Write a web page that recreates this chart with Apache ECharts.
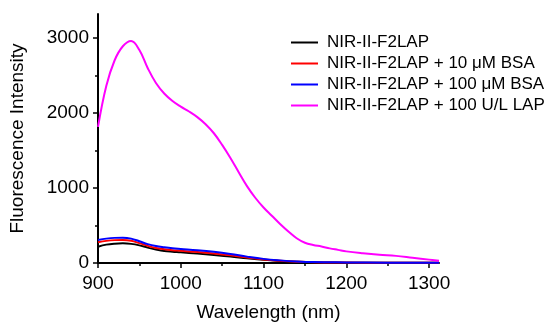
<!DOCTYPE html>
<html><head><meta charset="utf-8">
<script src="https://cdn.jsdelivr.net/npm/echarts@6/dist/echarts.min.js"></script>
<style>html,body{margin:0;padding:0;background:#fff}#c{width:550px;height:324px}</style>
</head><body><div id="c"></div>
<script>
const seriesNames = ['NIR-II-F2LAP', 'NIR-II-F2LAP + 10 \u03bcM BSA', 'NIR-II-F2LAP + 100 \u03bcM BSA', 'NIR-II-F2LAP + 100 U/L LAP'];
const colors = ['#000000', '#ff0000', '#0000ff', '#ff00ff'];
const wlLow = [900,910,920,930,940,950,960,970,980,990,1000,1020,1040,1060,1080,1100,1120,1140,1160,1200,1250,1312];
const black = [217,245,258,262,255,235,205,180,160,150,143,125,107,87,63,42,27,16,9,5,3,2];
const red   = [276,295,305,307,297,265,228,200,183,171,163,146,126,102,73,47,30,18,10,6,4,2];
const blue  = [307,325,335,337,325,290,252,226,210,197,188,171,149,120,85,55,35,20,12,8,5,3];
const wlLap = [900,910,920,930,940,950,960,970,980,990,1000,1010,1020,1030,1040,1050,1060,1070,1080,1090,1100,1110,1120,1130,1140,1150,1160,1170,1180,1190,1200,1220,1240,1260,1280,1300,1312];
const lap   = [1815,2360,2700,2890,2960,2840,2600,2400,2260,2160,2085,2020,1945,1850,1730,1575,1400,1210,1025,870,740,630,520,420,330,270,240,220,195,175,155,130,110,95,70,45,30];
const xMajor = [900,1000,1100,1200,1300];
const xMinor = [950,1050,1150,1250];
const yMajor = [0,1000,2000,3000];
const yMinor = [500,1500,2500];

const pair = (xs, ys) => xs.map((x, i) => [x, ys[i]]);
const font = 'Liberation Sans, Arial, sans-serif';
const chart = echarts.init(document.getElementById('c'), null, {renderer: 'canvas'});
chart.setOption({
  animation: false,
  grid: {left: 98, right: 111, top: 14, bottom: 61, containLabel: false, outerBoundsMode: 'none'},
  legend: {
    orient: 'vertical', left: 286, top: 29, itemGap: 4, itemWidth: 27, itemHeight: 2, icon: 'rect',
    textStyle: {fontFamily: font, fontSize: 17, color: '#000', padding: [0, 0, 0, 4]},
    data: seriesNames
  },
  xAxis: [{
    type: 'value', min: 900, max: 1312,
    name: 'Wavelength (nm)', nameLocation: 'middle', nameGap: 40,
    nameTextStyle: {fontFamily: font, fontSize: 19, color: '#000'},
    axisLine: {show: true, lineStyle: {color: '#000', width: 2}},
    axisTick: {show: true, inside: false, length: 5, lineStyle: {color: '#000', width: 1.5}, customValues: xMajor},
    axisLabel: {fontFamily: font, fontSize: 19, color: '#000', margin: 11, customValues: xMajor, formatter: v => String(v)},
    splitLine: {show: false}
  }, {
    type: 'value', min: 900, max: 1312, position: 'bottom',
    axisLine: {show: false},
    axisTick: {show: true, length: 3, lineStyle: {color: '#000', width: 1.5}, customValues: xMinor},
    axisLabel: {show: false}, splitLine: {show: false}
  }],
  yAxis: [{
    type: 'value', min: 0, max: 3320,
    name: 'Fluorescence Intensity', nameLocation: 'middle', nameGap: 71,
    nameTextStyle: {fontFamily: font, fontSize: 19, color: '#000'},
    axisLine: {show: true, lineStyle: {color: '#000', width: 2}},
    axisTick: {show: true, length: 5, lineStyle: {color: '#000', width: 1.5}, customValues: yMajor},
    axisLabel: {fontFamily: font, fontSize: 19, color: '#000', margin: 9, customValues: yMajor, formatter: v => String(v)},
    splitLine: {show: false}
  }, {
    type: 'value', min: 0, max: 3320, position: 'left',
    axisLine: {show: false},
    axisTick: {show: true, length: 3, lineStyle: {color: '#000', width: 1.5}, customValues: yMinor},
    axisLabel: {show: false}, splitLine: {show: false}
  }],
  series: [
    {name: seriesNames[0], type: 'line', data: pair(wlLow, black)},
    {name: seriesNames[1], type: 'line', data: pair(wlLow, red)},
    {name: seriesNames[2], type: 'line', data: pair(wlLow, blue)},
    {name: seriesNames[3], type: 'line', data: pair(wlLap, lap)}
  ].map((s, i) => Object.assign(s, {
    smooth: 0.4, showSymbol: false, symbol: 'none', xAxisIndex: 0, yAxisIndex: 0,
    itemStyle: {color: colors[i]},
    lineStyle: {color: colors[i], width: 2}
  }))
});
</script></body></html>
